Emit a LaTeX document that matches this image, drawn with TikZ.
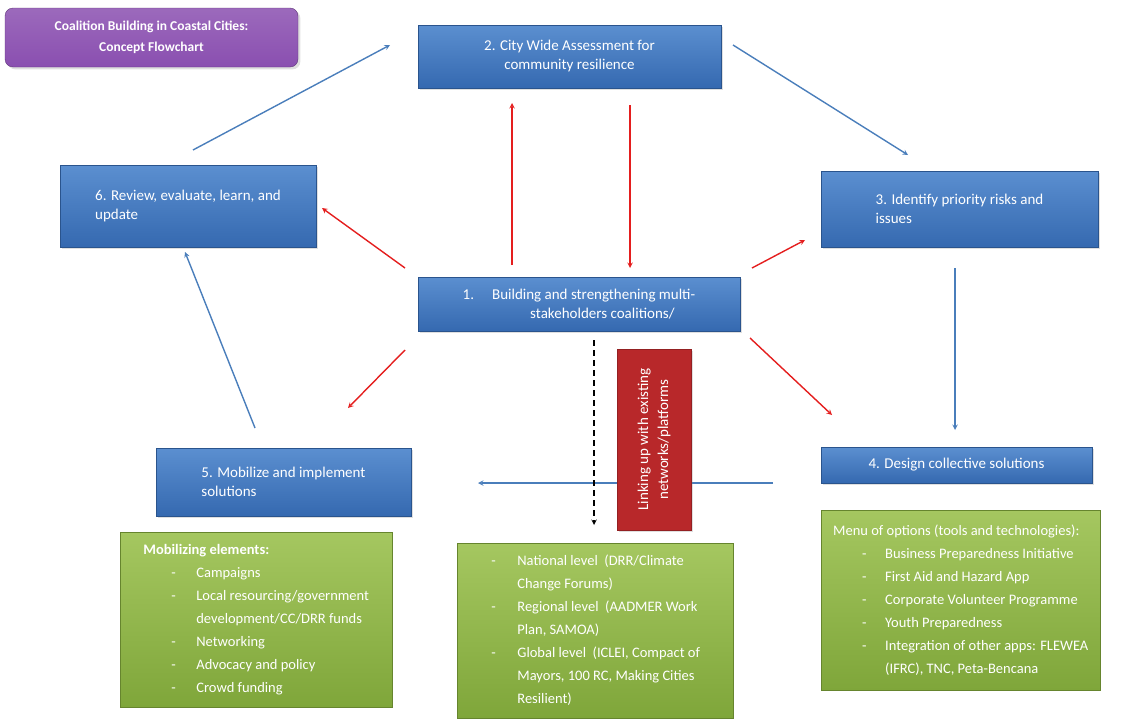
\documentclass[tikz,border=0pt]{standalone}
\usepackage{fontspec}
\setmainfont{Carlito}
\usetikzlibrary{shadows}
\definecolor{bluetop}{HTML}{5B8FD0}
\definecolor{bluebot}{HTML}{3569B0}
\definecolor{grtop}{HTML}{A5C760}
\definecolor{grbot}{HTML}{7FA63A}
\definecolor{redbox}{HTML}{B8282A}
\definecolor{purp}{HTML}{8A4FB0}
\definecolor{arrblue}{HTML}{4A7EBB}
\definecolor{arrred}{HTML}{E41E1E}
\newcommand\dsh[2]{\makebox[#1pt][l]{}\makebox[#2pt][l]{-}}
\begin{document}
\begin{tikzpicture}[x=1pt,y=-1pt,
 bbox/.style={draw=bluebot!80!black,top color=bluetop,bottom color=bluebot,text=white,font=\fontsize{15}{19}\selectfont,align=center,inner sep=0pt,drop shadow={opacity=0.25,shadow xshift=2pt,shadow yshift=-2pt}},
 gbox/.style={draw=grbot!80!black,top color=grtop,bottom color=grbot,text=white,font=\fontsize{14.5}{23}\selectfont,align=left,inner sep=12pt,anchor=north west},
 ba/.style={draw=arrblue,line width=1.4pt,-stealth},
 ra/.style={draw=arrred,line width=1.4pt,-stealth}]
\useasboundingbox (0,0) rectangle (1132,720);
\node[rounded corners=8pt,draw=purp!70!black,top color=purp!85,bottom color=purp,text=white,font=\bfseries\fontsize{13.5}{21}\selectfont,align=center,minimum width=293pt,minimum height=59pt,inner sep=0pt,drop shadow={opacity=0.25}] (title) at (151.5,37.5) {Coalition Building in Coastal Cities:\\Concept Flowchart};
\node[bbox,minimum width=303pt,minimum height=63pt] (b2) at (569.5,56.5) {2. City Wide Assessment for\\community resilience};
\node[bbox,minimum width=256pt,minimum height=82pt,align=left] (b6) at (188,206) {6. Review, evaluate, learn, and\\update};
\node[bbox,minimum width=277pt,minimum height=76pt,align=left] (b3) at (959.5,209) {3. Identify priority risks and\\issues};
\node[bbox,minimum width=322pt,minimum height=54pt,align=left] (b1) at (579,304) {1.\hspace{1.2em}Building and strengthening multi-\\\hspace{4.5em}stakeholders coalitions/};
\node[bbox,minimum width=255pt,minimum height=68pt,align=left] (b5) at (283.5,482) {5. Mobilize and implement\\solutions};
\node[bbox,minimum width=271pt,minimum height=36pt] (b4) at (956.5,465) {4. Design collective solutions};
% blue arrows
\coordinate (p1) at (193,150); \coordinate (p2) at (390,45);
\coordinate (p3) at (733,45); \coordinate (p4) at (908,155);
\coordinate (p5) at (955,268); \coordinate (p6) at (955,430);
\coordinate (p7) at (773,483); \coordinate (p8) at (478,483);
\coordinate (p9) at (255,428); \coordinate (p10) at (185,252);
\draw[ba] (p1) -- (p2);
\draw[ba] (p3) -- (p4);
\draw[ba] (p5) -- (p6);
\draw[ba] (p7) -- (p8);
\draw[ba] (p9) -- (p10);
% red arrows
\coordinate (r1) at (512,265); \coordinate (r2) at (512,103);
\coordinate (r3) at (630,105); \coordinate (r4) at (630,268);
\coordinate (r5) at (405,268); \coordinate (r6) at (322,208);
\coordinate (r7) at (752,268); \coordinate (r8) at (805,240);
\coordinate (r9) at (405,350); \coordinate (r10) at (348,408);
\coordinate (r11) at (750,338); \coordinate (r12) at (832,415);
\draw[ra] (r1) -- (r2);
\draw[ra] (r3) -- (r4);
\draw[ra] (r5) -- (r6);
\draw[ra] (r7) -- (r8);
\draw[ra] (r9) -- (r10);
\draw[ra] (r11) -- (r12);
% dashed
\coordinate (d1) at (594,340); \coordinate (d2) at (594,525);
\draw[black,line width=1.4pt,dash pattern=on 6pt off 4pt,-stealth] (d1) -- (d2);
% red vertical box
\node[draw=redbox!80!black,fill=redbox,minimum width=74pt,minimum height=181pt,inner sep=0pt,drop shadow={opacity=0.25}] (rb) at (654,439.5) {};
\node[rotate=90,text=white,font=\fontsize{15}{20}\selectfont,align=center] (rbt) at (rb.center) {Linking up with existing\\networks/platforms};
% green boxes
\node[gbox,minimum width=272pt,minimum height=175pt] (g1) at (120,532) {\textbf{Mobilizing elements:}\\
\dsh{28}{25}Campaigns\\
\dsh{28}{25}Local resourcing/government\\
\hspace*{53pt}development/CC/DRR funds\\
\dsh{28}{25}Networking\\
\dsh{28}{25}Advocacy and policy\\
\dsh{28}{25}Crowd funding};
\node[gbox,minimum width=276pt,minimum height=164pt] (g2) at (457,543) {\dsh{1}{26}National level\ \ (DRR/Climate\\
\hspace*{27pt}Change Forums)\\
\dsh{1}{26}Regional level\ \ (AADMER Work\\
\hspace*{27pt}Plan, SAMOA)\\
\dsh{1}{26}Global level\ \ (ICLEI, Compact of\\
\hspace*{27pt}Mayors, 100 RC, Making Cities\\
\hspace*{27pt}Resilient)};
\node[gbox,minimum width=277pt,minimum height=180pt] (g3) at (821,510) {Menu of options (tools and technologies):\\
\dsh{29}{23}Business Preparedness Initiative\\
\dsh{29}{23}First Aid and Hazard App\\
\dsh{29}{23}Corporate Volunteer Programme\\
\dsh{29}{23}Youth Preparedness\\
\dsh{29}{23}Integration of other apps: FLEWEA\\
\hspace*{52pt}(IFRC), TNC, Peta-Bencana};
\end{tikzpicture}
\end{document}
